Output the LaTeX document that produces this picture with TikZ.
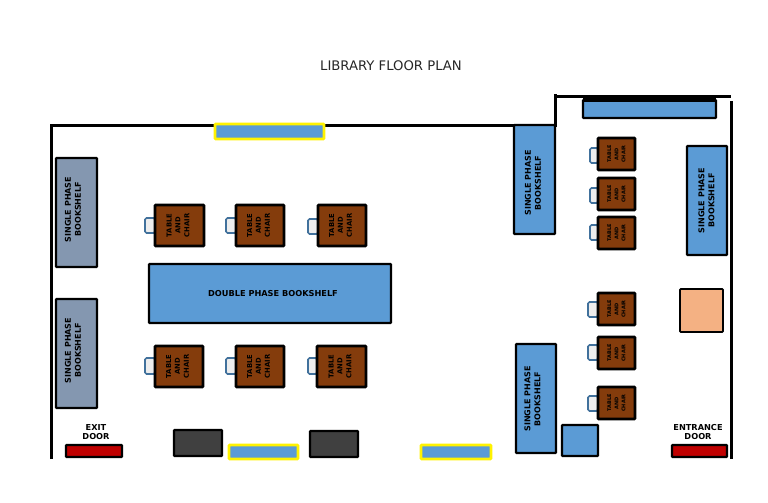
\documentclass[tikz,border=0pt]{standalone}
\usepackage{fontspec}
\setmainfont{DejaVu Sans}
\newcommand{\furn}[7]{%
  \pgfmathsetmacro{\cxx}{(#3+#5)/2}\pgfmathsetmacro{\cyy}{(#4+#6)/2}%
  \pgfmathsetmacro{\wdd}{abs(#5-#3)}\pgfmathsetmacro{\htt}{abs(#6-#4)}%
  \node[#2,minimum width=\wdd pt,minimum height=\htt pt] (#1) at (\cxx,\cyy) {#7};}
\newcommand{\vfurn}[7]{%
  \pgfmathsetmacro{\cxx}{(#3+#5)/2}\pgfmathsetmacro{\cyy}{(#4+#6)/2}%
  \pgfmathsetmacro{\wdd}{abs(#5-#3)}\pgfmathsetmacro{\htt}{abs(#6-#4)}%
  \node[#2,rotate=90,minimum width=\htt pt,minimum height=\wdd pt] (#1) at (\cxx,\cyy) {#7};}
\newcommand{\shelflabel}[1]{\hspace*{#1}SINGLE PHASE\\\hspace*{#1}BOOKSHELF}
\definecolor{shelfblue}{HTML}{5B9BD5}
\definecolor{shelfgray}{HTML}{8497B0}
\definecolor{wood}{HTML}{843C0C}
\definecolor{peach}{HTML}{F4B183}
\definecolor{dark}{HTML}{404040}
\definecolor{doorred}{HTML}{C00000}
\definecolor{chairline}{HTML}{41719C}
\definecolor{chairfill}{HTML}{EDEDED}
\tikzset{
  wall/.style={line width=3pt,line cap=rect},
  item/.style={draw=black,line width=2.3pt,rounded corners=0.8pt,inner sep=0pt,outer sep=0pt,align=center,font=\bfseries\fontsize{8.2}{10}\selectfont,text=black},
  shelf/.style={item,fill=shelfblue},
  vshelf/.style={shelf,text depth=7pt,font=\bfseries\fontsize{8}{10}\selectfont},
  grayshelf/.style={item,fill=shelfgray,text depth=7pt,font=\bfseries\fontsize{8}{10}\selectfont},
  windowbox/.style={item,draw=yellow,fill=shelfblue,line width=2.6pt},
  desk/.style={item,fill=wood,font=\bfseries\fontsize{6.8}{8.8}\selectfont,line width=2.6pt,text depth=3pt},
  smalldesk/.style={item,fill=wood,font=\bfseries\fontsize{5}{7.2}\selectfont,line width=2.6pt},
  seat/.style={draw=chairline,fill=chairfill,line width=1.6pt,rounded corners=1.5pt,inner sep=0pt,outer sep=0pt},
  cabinet/.style={item,fill=dark},
  door/.style={item,fill=doorred},
  counter/.style={item,fill=peach,line width=1.8pt},
  doorlabel/.style={font=\bfseries\fontsize{8.2}{9.2}\selectfont,align=center,text=black,inner sep=0pt},
  titletext/.style={font=\fontsize{13.2}{15}\selectfont,text=black!85,inner sep=0pt}
}
\begin{document}
\begin{tikzpicture}[x=1pt,y=-1pt]
\useasboundingbox (0,0) rectangle (768,503);
\node[titletext] (title) at (391,66) {LIBRARY FLOOR PLAN};
% walls
\coordinate (w1) at (51,459);\coordinate (w2) at (51,125);\coordinate (w3) at (555,125);
\coordinate (w4) at (555,94);\coordinate (w5) at (556,96);\coordinate (w6) at (731,96);
\coordinate (w7) at (731,101);\coordinate (w8) at (731,459);
\draw[wall,line cap=butt] (w1) -- (w2) -- (w3) -- (w4);
\draw[wall,line cap=butt] (w5) -- (w6);
\draw[wall,line cap=butt] (w7) -- (w8);
% windows
\furn{winA}{windowbox}{215}{124}{324}{139}{}
\furn{winB}{windowbox}{229}{445}{298}{459}{}
\furn{winC}{windowbox}{421}{445}{491}{459}{}
% shelves
\furn{topshelf}{shelf}{583}{100}{716}{118}{}
\draw[line width=4pt] (topshelf.north west) -- (topshelf.north east);
\vfurn{sa}{grayshelf}{56}{158}{97}{267}{\shelflabel{6pt}}
\vfurn{sb}{grayshelf}{56}{299}{97}{408}{\shelflabel{6pt}}
\vfurn{sc}{vshelf,text depth=3pt}{514}{125}{555}{234}{\shelflabel{-7pt}}
\vfurn{sd}{vshelf,text depth=1pt}{687}{146}{727}{255}{\shelflabel{0pt}}
\vfurn{se}{vshelf}{516}{344}{556}{453}{\shelflabel{-1pt}}
\furn{dbl}{shelf}{149}{264}{391}{323}{\hspace*{6pt}DOUBLE PHASE BOOKSHELF}
% large tables and chairs
\furn{ca}{seat}{145}{218}{155}{233}{}
\furn{cb}{seat}{226}{218}{236}{233}{}
\furn{cc}{seat}{308}{219}{318}{234}{}
\furn{cd}{seat}{145}{358}{155}{374}{}
\furn{ce}{seat}{226}{358}{236}{374}{}
\furn{cf}{seat}{308}{358}{317}{374}{}
\vfurn{ta}{desk}{155}{205}{204}{246}{TABLE\\AND\\CHAIR}
\vfurn{tb}{desk}{236}{205}{284}{246}{TABLE\\AND\\CHAIR}
\vfurn{tc}{desk}{318}{205}{366}{246}{TABLE\\AND\\CHAIR}
\vfurn{td}{desk}{155}{346}{203}{387}{TABLE\\AND\\CHAIR}
\vfurn{te}{desk}{236}{346}{284}{387}{TABLE\\AND\\CHAIR}
\vfurn{tf}{desk}{317}{346}{366}{387}{TABLE\\AND\\CHAIR}
% small tables and chairs
\furn{cg}{seat}{590}{148}{598}{163}{}
\furn{ch}{seat}{590}{188}{598}{203}{}
\furn{ci}{seat}{590}{225}{598}{240}{}
\furn{cj}{seat}{588}{302}{598}{317}{}
\furn{ck}{seat}{588}{345}{598}{360}{}
\furn{cl}{seat}{588}{396}{598}{411}{}
\vfurn{tg}{smalldesk}{598}{138}{635}{170}{TABLE\\AND\\CHAIR}
\vfurn{th}{smalldesk}{598}{178}{635}{210}{TABLE\\AND\\CHAIR}
\vfurn{ti}{smalldesk}{598}{217}{635}{249}{TABLE\\AND\\CHAIR}
\vfurn{tj}{smalldesk}{598}{293}{635}{325}{TABLE\\AND\\CHAIR}
\vfurn{tk}{smalldesk}{598}{337}{635}{369}{TABLE\\AND\\CHAIR}
\vfurn{tl}{smalldesk}{598}{387}{635}{419}{TABLE\\AND\\CHAIR}
% others
\furn{counterbox}{counter}{680}{289}{723}{332}{}
\furn{bluesq}{shelf}{562}{425}{598}{456}{}
\furn{cabA}{cabinet}{174}{430}{222}{456}{}
\furn{cabB}{cabinet}{310}{431}{358}{457}{}
\furn{exitd}{door}{66}{445}{122}{457}{}
\furn{entd}{door}{672}{445}{727}{457}{}
\node[doorlabel] (exitl) at (96,432) {EXIT\\DOOR};
\node[doorlabel] (entl) at (698,432) {ENTRANCE\\DOOR};
\end{tikzpicture}
\end{document}
